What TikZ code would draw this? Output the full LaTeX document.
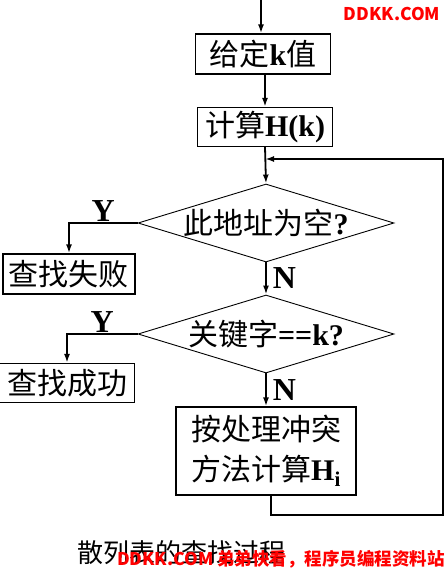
\documentclass[tikz,border=0pt]{standalone}
\usepackage{fontspec}
\setmainfont{Liberation Serif}
\newfontfamily\cjk{Noto Sans CJK SC}
\usetikzlibrary{shapes.geometric,arrows.meta}
\definecolor{ddkk-red}{RGB}{255,0,0}
\newcommand{\latb}[1]{{\rmfamily\bfseries #1}}

\begin{document}
\begin{tikzpicture}[x=1pt,y=-1pt,
    box/.style={draw, line width=1.2pt, minimum height=40pt, inner sep=0,
        font=\cjk\fontsize{30}{40}\selectfont, align=center},
    dia/.style={draw, diamond, line width=0.9pt, minimum width=256pt,
        minimum height=78pt, inner sep=0},
    txt/.style={font=\cjk\fontsize{30}{34}\selectfont, inner sep=0},
    arr/.style={-{Latex[length=9pt,width=6pt]}, line width=1.8pt},
    yn/.style={font=\fontsize{32}{34}\selectfont\bfseries, inner sep=1pt},
    wm/.style={font=\cjk\bfseries\fontsize{17.5}{20}\selectfont, text=ddkk-red, inner sep=0}]

    \useasboundingbox (0,0) rectangle (445,570);

    % Main column
    \coordinate (start) at (261,0);
    \node[box, minimum width=135pt] (give) at (263,54) {给定\latb{k}值};
    \node[box, minimum width=135pt, minimum height=39pt] (hash) at (265,127)
        {计算\latb{H(k)}};
    \coordinate (join) at (265,159);

    \node[dia] (empty) at (266,223) {};
    \node[txt] (emptytxt) at (empty) {此地址为空\latb{?}};
    \node[box, minimum width=132pt] (fail) at (69,274) {查找失败};

    \node[dia] (match) at (266,334) {};
    \node[txt] (matchtxt) at (match) {关键字\latb{==k?}};
    \node[box, minimum width=135pt, minimum height=39pt] (found) at (67,383) {查找成功};

    \node[box, minimum width=180pt, minimum height=88pt] (probe) at (266,451)
        {按处理冲突\\方法计算\latb{H\textsubscript{i}}};

    % Connectors
    \draw[arr] (start) -- (start |- give.north);
    \draw[arr] (give.south -| hash.north) -- (hash.north);
    \draw[arr] (hash.south) -- (empty.north);
    \draw[arr] (empty.west) -| node[yn, pos=0.25, above] {Y} (fail.north);
    \draw[arr] (empty.south) -- node[yn, right=5pt] {N} (match.north);
    \draw[arr] (match.west) -| node[yn, pos=0.25, above] {Y} (found.north);
    \draw[arr] (match.south) -- node[yn, right=5pt] {N} (probe.north);

    % Loop back
    \draw[arr] ([xshift=5pt]probe.south) -- ++(0,19) -| ([xshift=178pt]join) -- (join);

    % Caption and marks
    \node[font=\cjk\fontsize{26}{28}\selectfont, inner sep=0] (caption) at (181,553)
        {散列表的查找过程};
    \node[wm] (mark1) at (392,14) {DDKK.COM};
    \node[wm] (mark2) at (281,559) {DDKK.COM 弟弟快看，程序员编程资料站};

\end{tikzpicture}
\end{document}
